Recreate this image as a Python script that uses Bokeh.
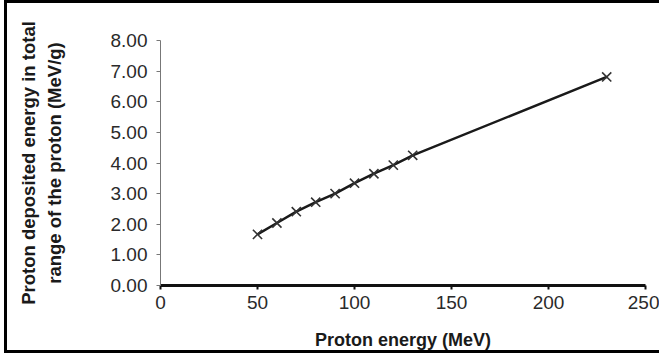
from bokeh.plotting import figure
from bokeh.models import FixedTicker, Range1d, CustomJSTickFormatter
from bokeh.embed import file_html
from bokeh.resources import INLINE

# Proton energy (MeV) and energy deposited over the full range (MeV/g)
proton_energy = [50, 60, 70, 80, 90, 100, 110, 120, 130, 230]
deposited_energy = [1.67, 2.04, 2.41, 2.72, 3.00, 3.34, 3.65, 3.93, 4.25, 6.81]

x_ticks = [0, 50, 100, 150, 200, 250]
y_ticks = [0, 1, 2, 3, 4, 5, 6, 7, 8]

FONT = "Liberation Sans"

p = figure(
    width=655, height=353,
    x_range=Range1d(0, 250), y_range=Range1d(0, 8),
    output_backend="svg", toolbar_location=None,
    min_border_left=153, min_border_right=17,
    min_border_top=37, min_border_bottom=71,
    background_fill_color="white", border_fill_color="white",
)
p.styles = {
    "margin-left": "4px",
    "border-left": "3px solid black",
    "border-top": "3px solid black",
    "border-bottom": "3px solid black",
}
p.outline_line_color = None
p.grid.visible = False

# x axis: heavy baseline with short ticks
p.xaxis.ticker = FixedTicker(ticks=x_ticks)
p.xaxis.axis_line_width = 3
p.xaxis.axis_line_color = "#111111"
p.xaxis.major_tick_line_color = "#111111"
p.xaxis.major_tick_line_width = 2
p.xaxis.major_tick_out = 4
p.xaxis.major_tick_in = 0
p.xaxis.minor_tick_line_color = None
p.xaxis.major_label_text_font = FONT
p.xaxis.major_label_text_font_size = "19px"
p.xaxis.major_label_text_color = "#2a2a2a"
p.xaxis.major_label_standoff = 6
p.xaxis.axis_label = "Proton energy (MeV)"
p.xaxis.axis_label_text_font = FONT
p.xaxis.axis_label_text_font_size = "18px"
p.xaxis.axis_label_text_font_style = "bold"
p.xaxis.axis_label_text_color = "#1a1a1a"
p.xaxis.axis_label_standoff = 18

# y axis: thin grey line, two-decimal labels
p.yaxis.ticker = FixedTicker(ticks=y_ticks)
p.yaxis.formatter = CustomJSTickFormatter(code="return tick.toFixed(2);")
p.yaxis.axis_line_width = 1
p.yaxis.axis_line_color = "#777777"
p.yaxis.major_tick_line_color = "#777777"
p.yaxis.major_tick_out = 4
p.yaxis.major_tick_in = 0
p.yaxis.minor_tick_line_color = None
p.yaxis.major_label_text_font = FONT
p.yaxis.major_label_text_font_size = "19px"
p.yaxis.major_label_text_color = "#2a2a2a"
p.yaxis.major_label_standoff = 9
p.yaxis.axis_label = "Proton deposited energy in total\nrange of the proton (MeV/g)"
p.yaxis.axis_label_text_font = FONT
p.yaxis.axis_label_text_font_size = "18.5px"
p.yaxis.axis_label_text_font_style = "bold"
p.yaxis.axis_label_text_color = "#1a1a1a"
p.yaxis.axis_label_standoff = 43

p.line(proton_energy, deposited_energy, line_color="#1a1a1a", line_width=2.5)
p.scatter(proton_energy, deposited_energy, marker="x", size=13,
          line_color="#333333", line_width=1.6)

open("out.html", "w").write(file_html(p, INLINE))
